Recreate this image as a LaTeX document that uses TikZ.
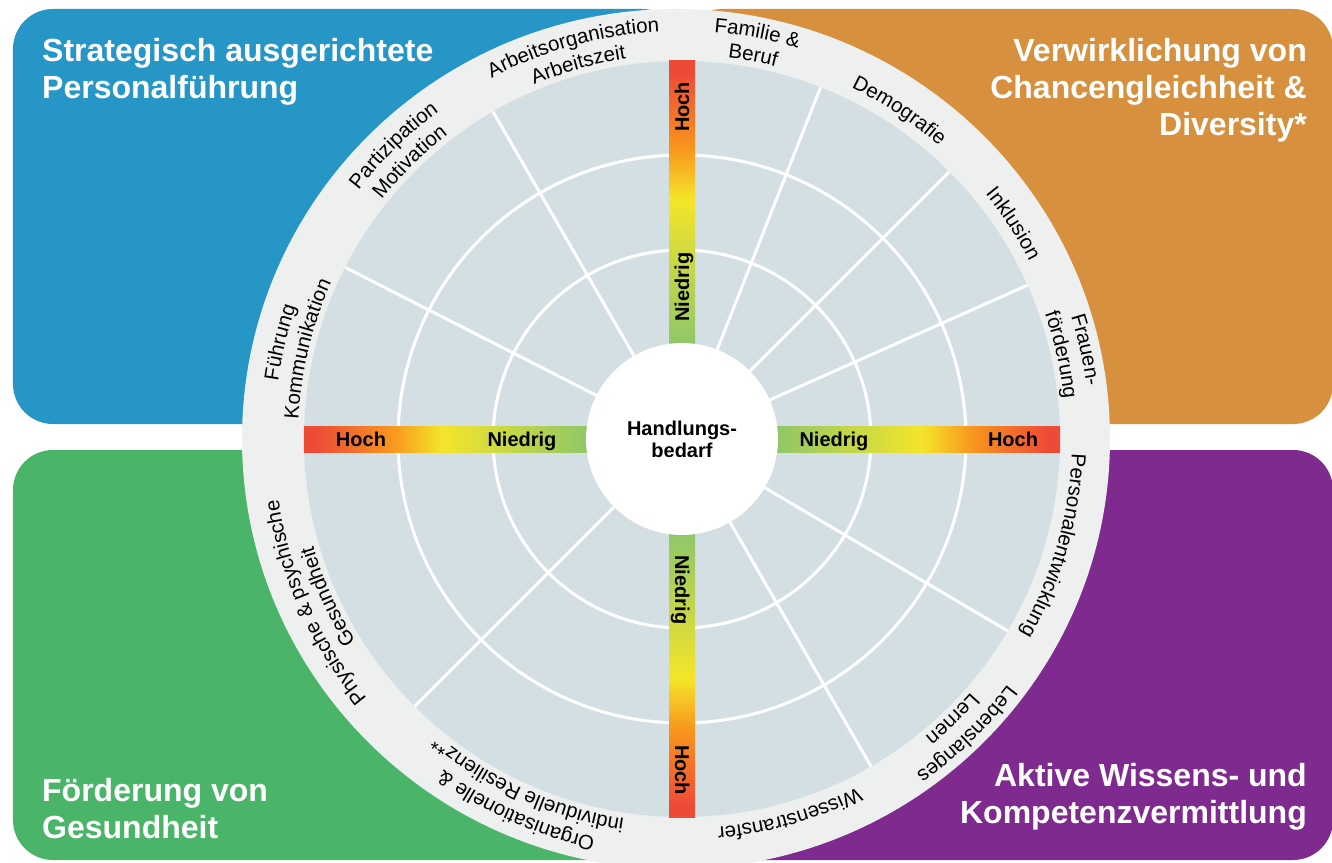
\documentclass[tikz,border=0pt]{standalone}
\usepackage{fontspec}
\setmainfont{Liberation Sans}
\usepackage{tikz}
\usetikzlibrary{decorations.text}

\definecolor{fuehrungblau}{HTML}{2696C7}
\definecolor{chancenorange}{HTML}{D6903E}
\definecolor{gesundgruen}{HTML}{4AB569}
\definecolor{wissenlila}{HTML}{7F2A8E}
\definecolor{ringgrau}{HTML}{EDF0EF}
\definecolor{feldgrau}{HTML}{D4DFE4}
\definecolor{hochrot}{HTML}{EE4B37}
\definecolor{hochorange}{HTML}{F7941E}
\definecolor{hochgelb}{HTML}{F5E52A}
\definecolor{niedriggruen}{HTML}{8CC66A}

\pgfdeclarehorizontalshading{bedarf}{100bp}{color(0bp)=(hochrot); color(27bp)=(hochrot); color(40bp)=(hochorange); color(49bp)=(hochgelb); color(75bp)=(niedriggruen); color(100bp)=(niedriggruen)}

\newcommand{\ringfont}{\fontsize{20.5}{22}\selectfont}

\begin{document}
\begin{tikzpicture}[
            x=1pt, y=1pt,
            quadrant/.style = {
                rounded corners=40pt
            },
            title/.style = {
                inner sep=0pt,
                text=white,
                font=\bfseries\fontsize{32}{37}\selectfont
            },
            spoke/.style = {
                white,
                line width=3pt
            },
            level/.style = {
                inner sep=0pt,
                anchor=base,
                font=\bfseries\fontsize{20}{22}\selectfont
            }
        ]
            \def\rCenter{96}
            \def\rField{378}
            \path[use as bounding box, fill=white] (-682,-423) rectangle (650,439);

            \fill[quadrant, fuehrungblau] (-669,15) rectangle (0,430);
            \fill[quadrant, chancenorange] (0,15) rectangle (651,430);
            \fill[quadrant, gesundgruen] (-669,-421) rectangle (0,-11);
            \fill[quadrant, wissenlila] (0,-421) rectangle (651,-11);

            \fill[ringgrau] (-6,0) ellipse [x radius=434, y radius=430];
            \fill[feldgrau] (0,0) circle [radius=\rField];

            \foreach \r in {189,284} {
                \draw[spoke] (0,0) circle [radius=\r];
            }
            \foreach \a in {24,45,68.5,120,153,225,300,329.5} {
                \draw[spoke] (\a:\rCenter) -- (\a:\rField);
            }

            \shade[shading=bedarf, shading angle=0] (-\rField,-13) rectangle (-90,13);
            \shade[shading=bedarf, shading angle=180] (90,-13) rectangle (\rField,13);
            \shade[shading=bedarf, shading angle=-90] (-13,90) rectangle (13,\rField);
            \shade[shading=bedarf, shading angle=90] (-13,-\rField) rectangle (13,-90);

            \node[circle, fill=white, minimum size=192pt, inner sep=0pt, align=center,
                font=\bfseries\fontsize{20}{22}\selectfont] (bedarf) at (0,0) {Handlungs-\\bedarf};

            \node[level] (hochW) at (-321,-7) {Hoch};
            \node[level] (niedrigW) at (-160,-7) {Niedrig};
            \node[level] (niedrigO) at (152,-7) {Niedrig};
            \node[level] (hochO) at (331,-7) {Hoch};
            \node[level, rotate=90] (hochN) at (7,332) {Hoch};
            \node[level, rotate=90] (niedrigN) at (7,152) {Niedrig};
            \node[level, rotate=-90] (niedrigS) at (-7,-151) {Niedrig};
            \node[level, rotate=-90] (hochS) at (-7,-331) {Hoch};

            \foreach \ang/\rad/\txt in {
                105.5/408/Arbeitsorganisation, 105.5/384/Arbeitszeit,
                134.5/408/Partizipation, 134.5/384/Motivation,
                166.5/408/Führung, 166.5/384/Kommunikation,
                79.5/408/Familie {\&}, 79.5/384/Beruf,
                56.5/390/Demografie,
                33/390/Inklusion,
                12.5/408/Frauen-, 12.5/384/förderung,
                344/390/Personalentwicklung,
                314/408/Lebenslanges, 314/384/Lernen,
                286/390/Wissenstransfer,
                246/408/Organisationelle {\&}, 246/384/individuelle Resilienz**,
                204/408/Physische {\&} psychische, 204/384/Gesundheit
            } {
                \path[decorate, decoration={text along path, text align=center,
                    text/.expanded={|\noexpand\ringfont|\txt}}]
                    ({\ang+45}:\rad) arc [start angle=\ang+45, end angle=\ang-45, radius=\rad];
            }

            \node[title, anchor=north west, align=left] (fuehrung) at (-640,401)
                {Strategisch ausgerichtete\\Personalführung};
            \node[title, anchor=north east, align=right] (chancen) at (625,401)
                {Verwirklichung von\\Chancengleichheit \&\\Diversity*};
            \node[title, anchor=north west, align=left] (gesundheit) at (-640,-339)
                {Förderung von\\Gesundheit};
            \node[title, anchor=north east, align=right] (kompetenz) at (625,-324)
                {Aktive Wissens- und\\Kompetenzvermittlung};

        \end{tikzpicture}
\end{document}
